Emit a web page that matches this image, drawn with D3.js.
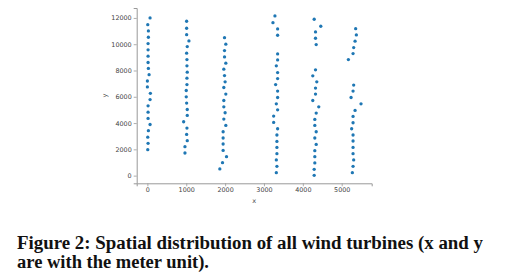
<!DOCTYPE html>
<html>
<head>
<meta charset="utf-8">
<script src="https://cdn.jsdelivr.net/npm/d3@7"></script>
<style>
  html, body { margin: 0; padding: 0; background: #fff; }
  svg { display: block; }
</style>
</head>
<body>
<svg id="chart" width="508" height="279"></svg>
<script>
// Turbine coordinates (meters), read column by column
const turbineX = [
  69,10,26,26,18,18,18,18,26,44,0,0,77,69,18,18,18,69,26,10,18,10,
  1010,1010,1010,1069,1026,1010,1018,1018,1026,1018,1018,1000,1000,1010,1026,1026,933,1018,1010,1026,967,967,
  1985,2018,1985,1985,2018,1967,1985,2000,1967,2018,1967,1967,2000,1967,2018,1949,1949,1949,1949,2036,1933,1864,
  3282,3231,3351,3351,3351,3351,3318,3351,3351,3300,3351,3351,3318,3351,3249,3249,3351,3333,3333,3333,3333,3318,3333,3318,
  4292,4462,4326,4326,4344,4326,4256,4359,4326,4326,4256,4410,4344,4308,4308,4344,4308,4344,4308,4308,4308,4292,4292,
  5359,5377,5344,5308,5292,5172,5308,5292,5241,5497,5344,5292,5292,5256,5292,5292,5292,5292,5308,5292,5274
];
const turbineY = [
  12000,11490,11010,10530,10050,9570,9090,8610,8160,7680,7200,6750,6260,5790,5310,4830,4350,3890,3420,2930,2460,1975,
  11746,11215,10729,10250,9818,9317,8831,8352,7874,7418,6932,6477,5998,5520,5034,4579,4100,3622,3136,2658,2202,1724,
  10501,10000,9514,9036,8557,8102,7616,7137,6705,6204,5718,5239,4784,4305,3819,3341,2863,2407,1921,1443,987,509,
  12149,11640,11162,10683,9263,8808,8352,7843,7388,6932,6431,5945,5467,5011,4533,4047,3569,3090,2604,2149,1670,1192,706,228,
  11898,11367,10934,10455,9970,8049,7593,7137,6659,6204,5718,5239,4761,4275,3819,3341,2863,2377,1898,1443,964,478,23,
  11185,10706,10228,9742,9286,8831,6887,6431,5945,5467,4958,4503,4024,3569,3090,2635,2149,1670,1192,706,228
];
const xTicks = [0, 1000, 2000, 3000, 4000, 5000];
const yTicks = [0, 2000, 4000, 6000, 8000, 10000, 12000];
const xLabel = "x";
const yLabel = "y";
const captionLines = [
  "Figure 2: Spatial distribution of all wind turbines (x and y",
  "are with the meter unit)."
];

(function () {
const points = turbineX.map((x, i) => ({ x, y: turbineY[i] }));

const svg = d3.select("#chart");
const plotLeft = 136.7, plotRight = 371.7, plotTop = 8, plotBottom = 183.3;

function padded(ext) {
  const r = ext[1] - ext[0];
  return [ext[0] - 0.05 * r, ext[1] + 0.05 * r];
}
const x = d3.scaleLinear().domain(padded(d3.extent(turbineX))).range([plotLeft, plotRight]);
const y = d3.scaleLinear().domain(padded(d3.extent(turbineY))).range([plotBottom, plotTop]);

const axisColor = "#999";
const textColor = "#444";
const tickFont = "DejaVu Sans, sans-serif";

const gx = svg.append("g")
  .attr("transform", `translate(0,${plotBottom})`)
  .call(d3.axisBottom(x).tickValues(xTicks).tickFormat(d3.format("d")).tickSizeOuter(0).tickSize(3).tickPadding(1.5));
const gy = svg.append("g")
  .attr("transform", `translate(${plotLeft},0)`)
  .call(d3.axisLeft(y).tickValues(yTicks).tickFormat(d3.format("d")).tickSizeOuter(0).tickSize(3).tickPadding(2));

[gx, gy].forEach(g => {
  g.select(".domain").attr("stroke", axisColor).attr("stroke-width", 1);
  g.selectAll(".tick line").attr("stroke", axisColor).attr("stroke-width", 0.8);
  g.selectAll(".tick text").attr("fill", textColor)
    .style("font-family", tickFont).style("font-size", "6.4px");
});

svg.append("text")
  .attr("x", (plotLeft + plotRight) / 2).attr("y", 203)
  .attr("text-anchor", "middle")
  .style("font-family", tickFont).style("font-size", "6.6px")
  .attr("fill", textColor).text(xLabel);
svg.append("text")
  .attr("transform", `translate(107,${(plotTop + plotBottom) / 2}) rotate(-90)`)
  .attr("text-anchor", "middle")
  .style("font-family", tickFont).style("font-size", "6.6px")
  .attr("fill", textColor).text(yLabel);

svg.append("g").selectAll("circle")
  .data(points).join("circle")
  .attr("cx", d => x(d.x))
  .attr("cy", d => y(d.y))
  .attr("r", 1.65)
  .attr("fill", "#1f77b4");

// caption
const capWidths = [466, 192];
const capBaselines = [249.3, 268.3];
captionLines.forEach((t, i) => {
  svg.append("text")
    .attr("x", 17).attr("y", capBaselines[i])
    .style("font-family", "Liberation Serif, DejaVu Serif, serif")
    .style("font-weight", "bold")
    .style("font-size", "18px")
    .attr("fill", "#111")
    .attr("textLength", capWidths[i])
    .attr("lengthAdjust", "spacingAndGlyphs")
    .text(t);
});
})();
</script>
</body>
</html>
